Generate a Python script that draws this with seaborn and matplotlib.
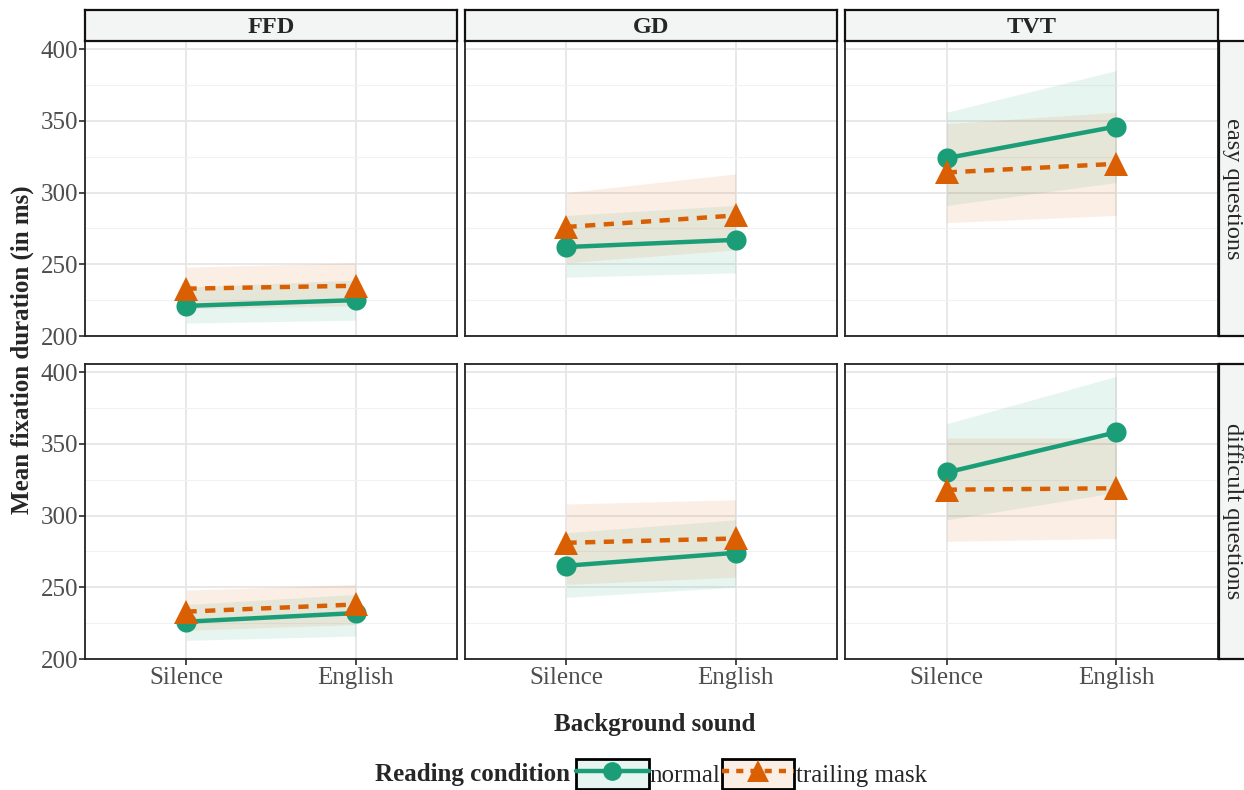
import matplotlib
matplotlib.use("Agg")
import matplotlib.pyplot as plt
import seaborn as sns
import pandas as pd
import numpy as np
from matplotlib.ticker import MultipleLocator
from matplotlib.patches import Patch
from matplotlib.lines import Line2D
from matplotlib.legend_handler import HandlerTuple

# Data
measures = ['FFD', 'GD', 'TVT']
difficulty = ['easy questions', 'difficult questions']
sounds = ['Silence', 'English']
conditions = ['normal', 'trailing mask']

# panel order: easy FFD, GD, TVT, difficult FFD, GD, TVT ; pairs = (Silence, English)
normal_mean = [(221, 225), (262, 267), (324, 346), (226, 232), (265, 274), (330, 358)]
normal_lo = [(209, 211), (241, 244), (291, 307), (213, 216), (243, 250), (297, 316)]
normal_hi = [(234, 239), (284, 291), (356, 385), (238, 245), (288, 297), (364, 397)]
mask_mean = [(233, 235), (276, 284), (314, 320), (233, 238), (281, 284), (318, 319)]
mask_lo = [(219, 221), (251, 260), (279, 284), (220, 224), (252, 257), (282, 284)]
mask_hi = [(248, 251), (300, 313), (348, 356), (248, 252), (308, 311), (354, 354)]

palette = {'normal': '#1B9E77', 'trailing mask': '#D95F02'}
markers = {'normal': 'o', 'trailing mask': '^'}
msizes = {'normal': 14.5, 'trailing mask': 17}
mask_dash = (2.3, 1.9)

# long table
rows_ = []
panels = [(d, m) for d in difficulty for m in measures]
for i, (d, m) in enumerate(panels):
    for cond, mean, lo, hi in [('normal', normal_mean, normal_lo, normal_hi),
                               ('trailing mask', mask_mean, mask_lo, mask_hi)]:
        for j, s in enumerate(sounds):
            rows_.append(dict(difficulty=d, measure=m, condition=cond, sound=s,
                              mean=mean[i][j], lo=lo[i][j], hi=hi[i][j]))
df = pd.DataFrame(rows_)

sns.set_theme(style='white')
plt.rcParams['font.family'] = ['Liberation Serif', 'DejaVu Serif']

W, H = 1244, 790
fig = plt.figure(figsize=(W / 100, H / 100), dpi=100)


def box(x0, y0, x1, y1):
    return [x0 / W, 1 - y1 / H, (x1 - x0) / W, (y1 - y0) / H]


col_px = [(85, 457), (465, 837), (845, 1218)]
row_px = [(41, 336), (364, 659)]
strip_bg = '#F3F5F4'

for r, d in enumerate(difficulty):
    for c, m in enumerate(measures):
        x0, x1 = col_px[c]
        y0, y1 = row_px[r]
        ax = fig.add_axes(box(x0, y0, x1, y1))
        sub = df[(df.difficulty == d) & (df.measure == m)]
        for cond in conditions:
            s = sub[sub.condition == cond]
            ax.fill_between([0, 1], s['lo'].values, s['hi'].values,
                            color=palette[cond], alpha=0.1, lw=0, zorder=2)
            sns.lineplot(data=s, x='sound', y='mean', ax=ax, color=palette[cond],
                         marker=markers[cond], markersize=msizes[cond],
                         markeredgewidth=0, lw=3.2, zorder=3)
            if cond == 'trailing mask':
                ax.lines[-1].set_dashes(mask_dash)
        ax.set_xlim(-0.6, 1.6)
        ax.set_ylim(200, 405.6)
        ax.set_xticks([0, 1])
        ax.yaxis.set_major_locator(MultipleLocator(50))
        ax.yaxis.set_minor_locator(MultipleLocator(25))
        ax.grid(which='major', color='#E6E6E6', lw=1.3, zorder=0)
        ax.grid(which='minor', axis='y', color='#F2F2F2', lw=0.8, zorder=0)
        ax.set_axisbelow(True)
        ax.set_xlabel('')
        ax.set_ylabel('')
        for sp in ax.spines.values():
            sp.set_color('#222222')
            sp.set_linewidth(1.3)
        ax.tick_params(axis='y', which='major', left=(c == 0), length=4,
                       color='#333333', labelsize=18, labelcolor='#4D4D4D', pad=1)
        ax.tick_params(axis='y', which='minor', left=False)
        ax.tick_params(axis='x', bottom=(r == 1), length=4, color='#333333',
                       labelsize=18, labelcolor='#4D4D4D', pad=2)
        if c != 0:
            ax.set_yticklabels([])
        if r != 1:
            ax.set_xticklabels([])
        else:
            ax.set_xticklabels(sounds)

# strips on top
for c, m in enumerate(measures):
    x0, x1 = col_px[c]
    sax = fig.add_axes(box(x0, 10, x1, 41))
    sax.set_facecolor(strip_bg)
    sax.set_xticks([])
    sax.set_yticks([])
    for sp in sax.spines.values():
        sp.set_color('#111111')
        sp.set_linewidth(1.6)
    sax.text(0.5, 0.45, m, ha='center', va='center', fontsize=17.5,
             fontweight='bold', transform=sax.transAxes)

# strips on the right
for r, d in enumerate(difficulty):
    y0, y1 = row_px[r]
    sax = fig.add_axes(box(1219, y0, 1252, y1))
    sax.set_facecolor(strip_bg)
    sax.set_xticks([])
    sax.set_yticks([])
    for sp in sax.spines.values():
        sp.set_color('#111111')
        sp.set_linewidth(1.6)
    sax.text(0.42, 0.5, d, ha='center', va='center', fontsize=17.5,
             rotation=-90, transform=sax.transAxes)

# axis titles
fig.text(22 / W, 1 - 350 / H, 'Mean fixation duration (in ms)', rotation=90,
         ha='center', va='center', fontsize=18, fontweight='bold')
fig.text(655 / W, 1 - 724 / H, 'Background sound', ha='center', va='center',
         fontsize=18, fontweight='bold')

# legend
fig.text(570 / W, 1 - 775 / H, 'Reading condition', ha='right', va='center',
         fontsize=18, fontweight='bold')
handles = []
for cond in conditions:
    col = palette[cond]
    p = Patch(facecolor=matplotlib.colors.to_rgba(col, 0.1), edgecolor='black', lw=2)
    ln = Line2D([], [], color=col, lw=3.2, marker=markers[cond],
                markersize=msizes[cond] - 1, markeredgewidth=0,
                linestyle='-' if cond == 'normal' else (0, (1.6, 1.6)))
    handles.append((p, ln))
fig.legend(handles=handles, labels=conditions, ncol=2, loc='center left',
           bbox_to_anchor=(576 / W, 1 - 774 / H), frameon=False,
           handler_map={tuple: HandlerTuple(ndivide=1, pad=0)},
           handlelength=2.9, handleheight=1.45, handletextpad=0.05,
           columnspacing=0.05, fontsize=18, borderpad=0, borderaxespad=0)

fig.savefig('out.png', dpi=100)
